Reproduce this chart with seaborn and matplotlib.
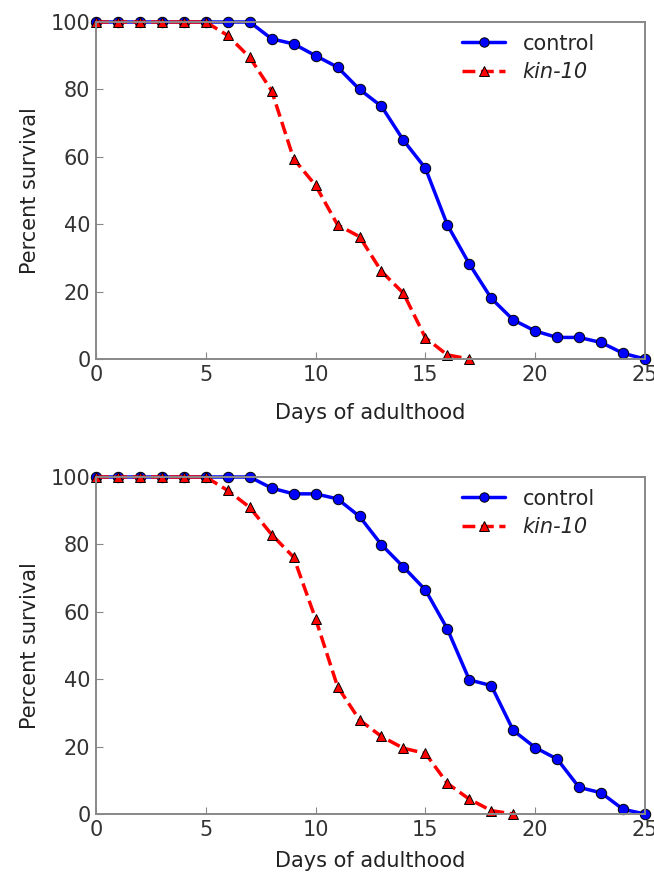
import numpy as np
import pandas as pd
import seaborn as sns
import matplotlib.pyplot as plt

sns.set_style("white")
plt.rcParams['font.family'] = ['DejaVu Sans']

days = list(range(26))

# Experiment 1
control_1 = [100, 100, 100, 100, 100, 100, 100, 100, 95, 93.5, 90, 86.6, 80, 75,
             64.9, 56.6, 39.8, 28.2, 18, 11.6, 8.3, 6.4, 6.4, 4.9, 1.7, 0]
kin10_1 = [100, 100, 100, 100, 100, 100, 96, 89.5, 79.6, 59.4, 51.5, 39.8, 36.3,
           26, 19.5, 6.3, 1.2, 0]

# Experiment 2
control_2 = [100, 100, 100, 100, 100, 100, 100, 100, 96.7, 95, 95, 93.5, 88.3,
             79.9, 73.3, 66.5, 54.9, 39.8, 38.1, 24.8, 19.7, 16.3, 7.9, 6.3, 1.4, 0]
kin10_2 = [100, 100, 100, 100, 100, 100, 96, 91, 82.9, 76.2, 57.9, 37.8, 27.9,
           23, 19.5, 18, 9.1, 4.4, 1, 0]

fig = plt.figure(figsize=(6.54, 8.82), dpi=100)
W, H = 654, 882
ax1 = fig.add_axes([96 / W, 1 - 359 / H, 549 / W, 337 / H])
ax2 = fig.add_axes([96 / W, 1 - 814 / H, 549 / W, 337 / H])

panels = [(ax1, control_1, kin10_1, 13), (ax2, control_2, kin10_2, 8)]
for ax, ctrl, kin, xpad in panels:
    df_c = pd.DataFrame({"day": days[:len(ctrl)], "surv": ctrl})
    df_k = pd.DataFrame({"day": days[:len(kin)], "surv": kin})
    sns.lineplot(data=df_c, x="day", y="surv", ax=ax, color="blue", lw=2.5,
                 marker="o", markersize=7.5, markeredgecolor="black",
                 markeredgewidth=0.7, label="control", clip_on=False)
    sns.lineplot(data=df_k, x="day", y="surv", ax=ax, color="red", lw=2.5,
                 linestyle="--", marker="^", markersize=7.5,
                 markeredgecolor="black", markeredgewidth=0.7,
                 label="kin-10", clip_on=False)
    ax.set_xlim(0, 25)
    ax.set_ylim(0, 100)
    ax.set_xticks([0, 5, 10, 15, 20, 25])
    ax.set_yticks([0, 20, 40, 60, 80, 100])
    ax.tick_params(direction="in", length=5, width=0.8, labelsize=15,
                   colors="#888888", labelcolor="#333333",
                   left=True, bottom=True, pad=4)
    for sp in ax.spines.values():
        sp.set_color("#888888")
        sp.set_linewidth(1.4)
    ax.set_xlabel("Days of adulthood", fontsize=15, color="#222222",
                  labelpad=xpad)
    ax.set_ylabel("Percent survival", fontsize=15, color="#222222",
                  labelpad=8)
    leg = ax.legend(loc="upper left", frameon=False, fontsize=15,
                    handlelength=2.05, handletextpad=0.85, labelspacing=0.4,
                    markerscale=0.9, borderaxespad=0,
                    bbox_to_anchor=(0.652, 0.99))
    leg.get_texts()[1].set_style("italic")

plt.savefig("out.png", dpi=100)
